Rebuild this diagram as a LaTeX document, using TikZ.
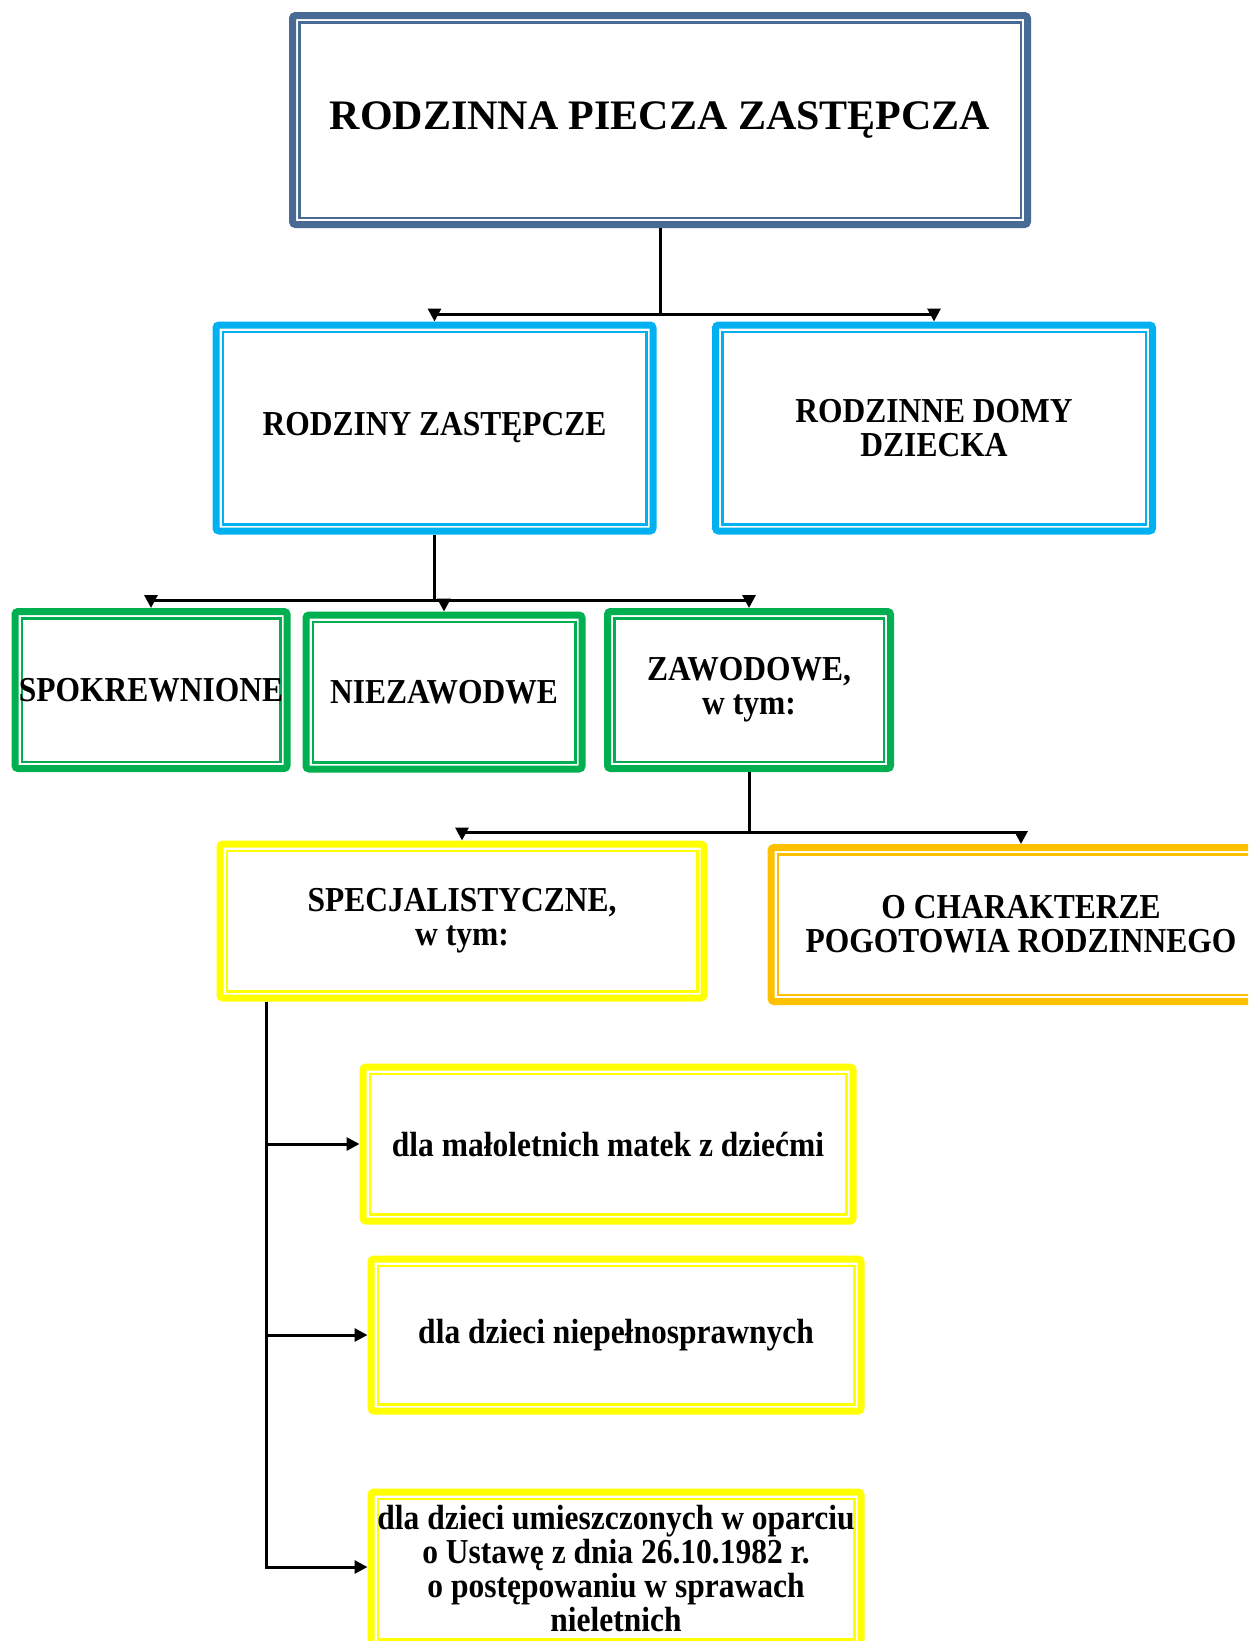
\documentclass[tikz,border=0pt]{standalone}
\usepackage{fontspec}
\setmainfont{Liberation Serif}
\newfontfamily\narrowserif{Liberation Serif}[FakeStretch=0.9]
\usepackage{tikz}
\usetikzlibrary{arrows.meta}

\definecolor{titleblue}{RGB}{74,106,150}
\definecolor{skyblue}{RGB}{0,176,240}
\definecolor{leafgreen}{RGB}{0,176,80}
\definecolor{sunyellow}{RGB}{255,255,0}
\definecolor{amber}{RGB}{255,192,0}

\begin{document}
\begin{tikzpicture}[
        x=1pt, y=-1pt,
        every node/.style={fill=white, align=center, inner sep=0pt,
          font=\narrowserif\fontsize{35}{34}\selectfont\bfseries},
        box/.style={draw=#1, line width=7pt, rounded corners=3pt,
          path picture={\draw[#1, line width=2.5pt, sharp corners]
            ([shift={(6.75pt,-6.75pt)}]path picture bounding box.north west) rectangle
            ([shift={(-6.75pt,6.75pt)}]path picture bounding box.south east);}},
        link/.style={line width=3pt},
        arrow/.style={link, -{Triangle[length=13pt,width=13pt]}}
      ]
      \clip (0,0) rectangle (1248,1641);

      % Root node
      \node[box=titleblue, minimum width=735pt, minimum height=209pt,
        font=\fontsize{42}{48}\selectfont\bfseries] (rpz) at (660,120) {RODZINNA PIECZA ZASTĘPCZA};

      % Level 1
      \node[box=skyblue, minimum width=437pt, minimum height=206pt] (rz) at (434.5,428) {RODZINY ZASTĘPCZE};
      \node[box=skyblue, minimum width=437pt, minimum height=206pt] (rdd) at (934,428) {RODZINNE DOMY\\ DZIECKA};

      % Level 2
      \node[box=leafgreen, minimum width=272pt, minimum height=157pt] (spokr) at (151,690) {SPOKREWNIONE};
      \node[box=leafgreen, minimum width=276pt, minimum height=154pt] (niezaw) at (444,692) {NIEZAWODWE};
      \node[box=leafgreen, minimum width=283pt, minimum height=157pt] (zaw) at (749,690) {ZAWODOWE,\\ w tym:};

      % Level 3
      \node[box=sunyellow, minimum width=484pt, minimum height=154pt] (spec) at (462,921) {SPECJALISTYCZNE,\\ w tym:};
      \node[box=amber, minimum width=500pt, minimum height=154pt] (pogot) at (1021,924.5) {O CHARAKTERZE\\ POGOTOWIA RODZINNEGO};

      % Level 4
      \node[box=sunyellow, minimum width=490pt, minimum height=154pt] (matki) at (608,1144) {dla małoletnich matek z dziećmi};
      \node[box=sunyellow, minimum width=490pt, minimum height=152pt] (niepeln) at (616,1335) {dla dzieci niepełnosprawnych};
      \node[box=sunyellow, minimum width=490pt, minimum height=154pt] (nielet) at (616,1569)
        {dla dzieci umieszczonych w oparciu\\ o Ustawę z dnia 26.10.1982 r.\\ o postępowaniu w sprawach\\ nieletnich};

      % connectors
      \draw[link] (rpz.south) -- ++(0,86) coordinate (j1);
      \draw[arrow] (j1) -| (rz.north);
      \draw[arrow] (j1) -| (rdd.north);

      \draw[link] (rz.south) -- ++(0,65.5) coordinate (j2);
      \draw[arrow] (j2) -| (spokr.north);
      \draw[arrow] (j2) -| (niezaw.north);
      \draw[arrow] (j2) -| (zaw.north);

      \draw[link] (zaw.south) -- ++(0,60) coordinate (j3);
      \draw[arrow] (j3) -| (spec.north);
      \draw[arrow] (j3) -| (pogot.north);

      \coordinate (bus) at ([xshift=50pt]spec.south west);
      \draw[arrow] (bus) |- (matki.west);
      \draw[arrow] (bus) |- (niepeln.west);
      \draw[arrow] (bus) |- ([yshift=2pt]nielet.west);

    \end{tikzpicture}
\end{document}
